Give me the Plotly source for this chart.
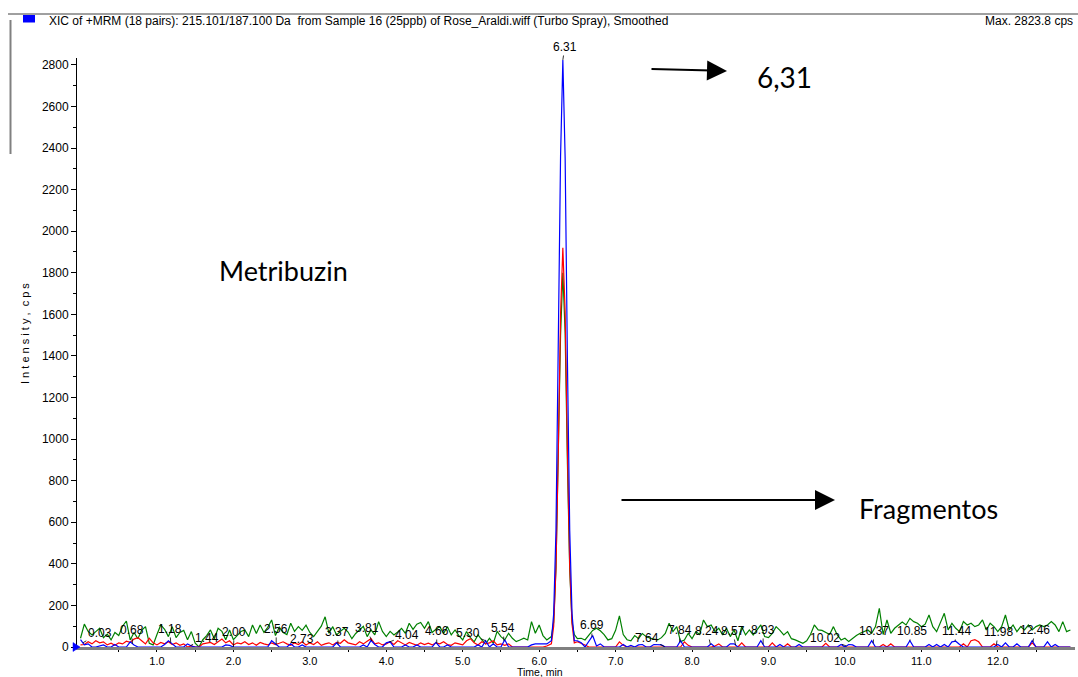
import numpy as np
import plotly.graph_objects as go

# ---------------------------------------------------------------------------
# XIC traces (cps). Baseline sampled on a 0.05 min cycle; the elution window
# around 6.31 min is sampled more finely.
# ---------------------------------------------------------------------------
grid = np.round(np.arange(0.0, 12.951, 0.05), 2)
base_time = grid[(grid < 6.14) | (grid > 6.46)]
peak_time = [6.16, 6.19, 6.22, 6.25, 6.28, 6.31, 6.34, 6.37, 6.40, 6.43, 6.46]

# green transition, baseline per minute (6th minute: 6.00-6.10 and 6.50-6.95)
green_base = (
    [42, 110, 75, 58, 74, 90, 45, 62, 34, 70, 55, 100, 125, 34, 70, 40, 80, 98, 18, 10]
    + [60, 106, 85, 50, 98, 45, 70, 80, 35, 74, 18, 0, 35, 55, 82, 40, 90, 75, 35, 82]
    + [35, 55, 75, 82, 50, 106, 65, 106, 70, 95, 130, 55, 95, 70, 60, 114, 75, 98, 80, 105]
    + [70, 50, 75, 100, 145, 66, 98, 58, 75, 90, 72, 40, 65, 85, 100, 50, 82, 58, 122, 75]
    + [50, 75, 58, 72, 90, 66, 114, 85, 110, 118, 90, 122, 70, 85, 98, 65, 98, 58, 82, 55]
    + [34, 74, 45, 25, 58, 34, 15, 42, 18, 75, 50, 34, 66, 42, 26, 34, 42, 34, 122, 66]
    + [106, 55, 34, 40, 42, 34, 60, 80, 90, 78, 60, 34, 40]
    + [80, 150, 60, 35, 30, 55, 40, 65, 50, 42, 38, 34, 45, 65, 114, 74, 98, 26, 34, 66]
    + [40, 74, 60, 130, 98, 106, 74, 90, 58, 90, 50, 82, 30, 98, 58, 82, 58, 85, 106, 50]
    + [45, 66, 98, 80, 58, 74, 40, 34, 26, 18, 30, 60, 106, 82, 80, 70, 60, 98, 58, 34]
    + [42, 26, 42, 55, 66, 74, 82, 66, 98, 186, 60, 130, 66, 90, 106, 120, 106, 138, 122, 114]
    + [98, 110, 154, 98, 74, 114, 162, 82, 114, 90, 74, 122, 106, 114, 98, 106, 130, 82, 114, 98]
    + [74, 98, 154, 82, 106, 74, 98, 82, 106, 82, 98, 106, 98, 106, 122, 106, 74, 122, 74, 82]
)
green_peak = [50, 120, 380, 880, 1500, 1800, 1510, 880, 370, 120, 60]

red_base = (
    [10, 12, 25, 15, 30, 20, 25, 10, 18, 8, 20, 15, 28, 22, 38, 45, 30, 15, 42, 20]
    + [10, 22, 15, 25, 12, 20, 8, 15, 0, 5, 0, 0, 15, 18, 22, 12, 25, 38, 20, 30]
    + [10, 20, 15, 25, 12, 20, 8, 22, 15, 10, 20, 12, 18, 25, 15, 8, 20, 12, 25, 10]
    + [20, 12, 25, 8, 15, 20, 10, 22, 18, 35, 20, 15, 10, 25, 15, 28, 40, 15, 20, 10]
    + [15, 25, 12, 30, 18, 10, 22, 15, 8, 20, 12, 18, 10, 20, 15, 25, 12, 8, 20, 15]
    + [10, 30, 40, 20, 10, 25, 15, 20, 30, 10, 15, 8, 15, 0, 0, 0, 0, 0, 0, 0]
    + [0, 0, 5, 25, 18, 10, 0, 0, 0, 0, 0, 0, 0]
    + [0, 25, 8, 0, 0, 0, 0, 0, 0, 0, 0, 0, 0, 0, 0, 0, 0, 0, 25, 8]
    + [0, 0, 0, 0, 0, 0, 5, 15, 0, 0, 0, 0, 0, 20, 0, 0, 0, 0, 0, 0]
    + [0, 20, 0, 0, 0, 15, 0, 0, 0, 0, 0, 0, 0, 0, 0, 18, 0, 0, 0, 0]
    + [0, 0, 0, 0, 0, 0, 0, 0, 0, 0, 12, 0, 15, 0, 0, 0, 0, 0, 0, 0]
    + [0, 0, 0, 0, 0, 0, 0, 0, 0, 0, 0, 15, 0, 30, 35, 25, 0, 0, 0, 15]
    + [0, 0, 0, 0, 0, 0, 0, 0, 0, 20, 0, 0, 0, 0, 0, 0, 0, 0, 0, 0]
)
red_peak = [15, 100, 380, 930, 1600, 1920, 1610, 940, 390, 110, 20]

blue_base = (
    [35, 10, 15, 0, 0, 5, 10, 0, 0, 12, 0, 0, 0, 25, 10, 0, 0, 0, 0, 0]
    + [0, 0, 12, 30, 15, 0, 0, 0, 15, 5, 0, 0, 0, 0, 0, 0, 0, 0, 10, 8]
    + [0, 0, 0, 0, 0, 0, 0, 0, 0, 0, 30, 15, 0, 0, 0, 15, 0, 0, 10, 0]
    + [0, 0, 0, 0, 0, 0, 0, 20, 0, 0, 0, 0, 0, 0, 10, 0, 32, 12, 0, 0]
    + [20, 25, 0, 0, 0, 10, 0, 0, 10, 0, 0, 0, 0, 22, 0, 0, 10, 0, 0, 0]
    + [0, 0, 0, 0, 10, 0, 30, 0, 15, 0, 0, 35, 0, 0, 0, 0, 0, 0, 10, 15]
    + [15, 15, 15, 30, 20, 0, 25, 55, 5, 15, 0, 0, 0]
    + [0, 0, 12, 0, 8, 0, 10, 12, 0, 0, 12, 12, 10, 0, 0, 0, 0, 30, 0, 0]
    + [0, 0, 0, 0, 0, 15, 0, 0, 0, 0, 15, 15, 0, 0, 0, 0, 0, 0, 30, 0]
    + [0, 0, 0, 12, 0, 0, 0, 0, 12, 0, 0, 0, 0, 0, 0, 0, 0, 0, 0, 12]
    + [0, 12, 10, 0, 0, 0, 0, 30, 0, 0, 0, 0, 0, 0, 0, 0, 0, 30, 0, 0]
    + [0, 0, 12, 0, 12, 0, 12, 0, 25, 28, 12, 0, 0, 0, 0, 0, 0, 0, 0, 0]
    + [12, 0, 20, 0, 0, 15, 0, 0, 0, 30, 0, 0, 0, 25, 0, 12, 0, 0, 0, 0]
)
blue_peak = [30, 160, 560, 1380, 2360, 2823.8, 2350, 1370, 560, 160, 30]

# retention-time labels found by the peak finder
peak_labels = ["0.03", "0.68", "1.18", "1.44", "2.00", "2.56", "2.73", "3.37",
               "3.81", "4.04", "4.66", "5.30", "5.54", "6.31", "6.69", "7.64",
               "7.84", "8.24", "8.57", "8.93", "10.02", "10.37", "10.85",
               "11.44", "11.98", "12.46"]

# label placement: (pixel shift in x, label height in cps)
label_place = [(17, 67), (-1, 82), (-1, 87), (16, 43), (1, 72), (0, 87), (13, 38),
               (-1, 72), (-5, 91), (18, 58), (0, 77), (-18, 67), (-1, 91), (2, 2886),
               (0, 106), (-18, 43), (0, 82), (-3, 77), (-3, 77), (0, 82), (-21, 43),
               (1, 77), (2, 77), (2, 77), (2, 72), (2, 82)]


def merge(base, peak):
    t = np.concatenate([base_time, peak_time])
    v = np.concatenate([np.asarray(base, float), np.asarray(peak, float)])
    order = np.argsort(t, kind="stable")
    return t[order], v[order]


t_green, v_green = merge(green_base, green_peak)
t_red, v_red = merge(red_base, red_peak)
t_blue, v_blue = merge(blue_base, blue_peak)

FONT = "Liberation Sans, Arial, sans-serif"
CALLOUT_FONT = "Lato, Open Sans, sans-serif"

# plot area geometry in page pixels
L, R, T, B = 77, 3, 58, 30
W, H = 1078, 677
PW, PH = W - L - R, H - T - B


def px(xp):
    return (xp - L) / PW


def py(yp):
    return (H - B - yp) / PH


fig = go.Figure()
for t, v, c in [(t_green, v_green, "#008000"), (t_red, v_red, "#FF0000"),
                (t_blue, v_blue, "#0000FF")]:
    fig.add_trace(go.Scatter(x=t, y=v, mode="lines", line=dict(color=c, width=1.2),
                             showlegend=False, hoverinfo="skip"))

annotations = []
for lab, (dx, ly) in zip(peak_labels, label_place):
    rt = float(lab)
    yv = float(np.interp(rt, t_blue, v_blue))
    annotations.append(dict(
        x=rt, y=yv, xref="x", yref="y", text=lab, showarrow=True,
        arrowhead=0, arrowwidth=0.8, arrowcolor="black", standoff=0,
        ax=dx, ay=ly, axref="pixel", ayref="y",
        font=dict(family=FONT, size=12, color="black"),
    ))


def note(xp, yp, text, size, family=FONT, angle=0, xanchor="center"):
    return dict(x=px(xp), y=py(yp), xref="paper", yref="paper", showarrow=False,
                xanchor=xanchor, yanchor="middle", textangle=angle, text=text,
                font=dict(family=family, size=size, color="black"))


def arrow(x_head, y_head, dx, dy):
    return dict(x=px(x_head), y=py(y_head), xref="paper", yref="paper", text="",
                showarrow=True, ax=dx, ay=dy, arrowhead=2, arrowsize=2.0,
                arrowwidth=2, arrowcolor="black", standoff=0)


annotations += [
    note(47, 21, "XIC of +MRM (18 pairs): 215.101/187.100 Da  from Sample 16 (25ppb) of "
                 "Rose_Araldi.wiff (Turbo Spray), Smoothed", 12, xanchor="left"),
    note(983, 21, "Max. 2823.8 cps", 12, xanchor="left"),
    note(25, 334, "I n t e n s i t y ,  c p s", 11, angle=-90),
    note(540, 672, "Time, min", 10.5),
    note(283, 270, "Metribuzin", 27, family=CALLOUT_FONT),
    note(784, 77, "6,31", 28, family=CALLOUT_FONT),
    note(928, 508, "Fragmentos", 27, family=CALLOUT_FONT),
    arrow(727, 71, -77, -2),
    arrow(835, 500, -215, 0),
]

shapes = [
    dict(type="line", xref="paper", yref="paper", x0=px(8), x1=px(1078),
         y0=py(14), y1=py(14), line=dict(color="#404040", width=1)),
    dict(type="rect", xref="paper", yref="paper", x0=px(23), x1=px(35),
         y0=py(22.5), y1=py(15), line=dict(color="#0000FF", width=0), fillcolor="#0000FF"),
    dict(type="line", xref="paper", yref="paper", x0=px(10.5), x1=px(10.5),
         y0=py(20), y1=py(154), line=dict(color="#808080", width=2)),
    # start-of-trace marker at the origin
    dict(type="path", xref="paper", yref="paper", layer="above",
         path=f"M {px(73)} {py(642.5)} L {px(73)} {py(651.5)} L {px(80)} {py(647)} Z",
         fillcolor="#0000FF", line=dict(color="#0000FF", width=0.5)),
]

fig.update_layout(
    width=W, height=H, margin=dict(l=L, r=R, t=T, b=B),
    paper_bgcolor="white", plot_bgcolor="white",
    font=dict(family=FONT, size=12, color="black"),
    annotations=annotations, shapes=shapes,
    xaxis=dict(range=[-0.046, 13.01], showgrid=False, zeroline=False,
               showline=True, linecolor="#808080", linewidth=3,
               tickmode="array", tickvals=list(range(1, 13)),
               ticktext=[f"{v:.1f}" for v in range(1, 13)],
               ticks="outside", ticklen=2, tickcolor="black", tickwidth=1,
               tickfont=dict(family=FONT, size=11, color="black"),
               minor=dict(tickmode="array", tickvals=[v + 0.5 for v in range(0, 13)],
                          ticks="outside", ticklen=2, tickcolor="black")),
    yaxis=dict(range=[0, 2833], showgrid=False, zeroline=False,
               showline=True, linecolor="black", linewidth=1,
               tickmode="array", tickvals=list(range(0, 2801, 200)),
               ticks="outside", ticklen=5, tickcolor="black", tickwidth=1,
               tickfont=dict(family=FONT, size=12, color="black"),
               minor=dict(tickmode="array", tickvals=list(range(100, 2801, 200)),
                          ticks="outside", ticklen=3, tickcolor="black")),
)

fig.write_html("out.html")
